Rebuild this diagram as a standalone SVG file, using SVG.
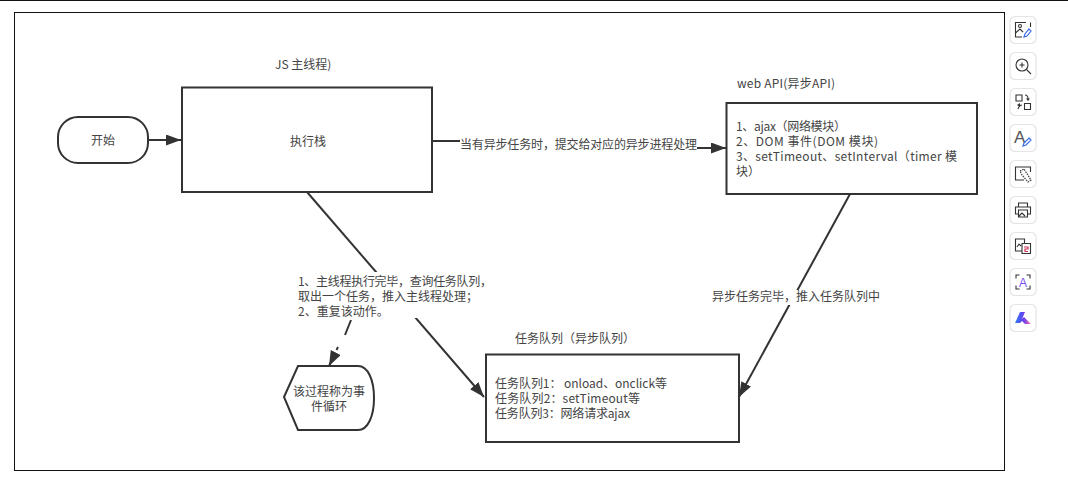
<svg xmlns="http://www.w3.org/2000/svg" width="1068" height="493" viewBox="0 0 1068 493">
<defs>
<style>
text{font-family:"Noto Sans CJK SC","Liberation Sans",sans-serif;font-size:12px;fill:#444}
.box{fill:#fff;stroke:#333;stroke-width:2}
.conn{fill:none;stroke:#333;stroke-width:2}
.btn{fill:#fff;stroke:#e4e4e4;stroke-width:1.2}
.ic{fill:none;stroke:#333;stroke-width:1.1}
.blue{fill:none;stroke:#3a6ee8;stroke-width:1.2}
.mid{text-anchor:middle}
</style>
<marker id="ah" markerUnits="userSpaceOnUse" markerWidth="16" markerHeight="12" refX="15" refY="5.5" orient="auto"><path d="M0 0L15 5.5L0 11Z" fill="#333"/></marker>
<linearGradient id="kg" x1="0" x2="1" y1="0" y2="0"><stop offset="0" stop-color="#2f7df0"/><stop offset=".55" stop-color="#6a3df0"/><stop offset="1" stop-color="#ff7ab0"/></linearGradient>
</defs>
<rect width="1068" height="493" fill="#fff"/>
<path d="M0 .5H1068" stroke="#111" stroke-width="1.2"/>
<rect id="frame" x="14.5" y="12.5" width="990" height="458" fill="#fff" stroke="#111" stroke-width="1"/>
<g id="connectors">
<path class="conn" d="M148 140H181" marker-end="url(#ah)"/>
<path class="conn" d="M432 141H579V148H726" marker-end="url(#ah)"/>
<path class="conn" d="M307 192L484 397" marker-end="url(#ah)"/>
<path class="conn" d="M850 194L739 397" marker-end="url(#ah)"/>
</g>
<g id="start"><rect class="box" x="58" y="117" width="90" height="46" rx="20"/><text class="mid" x="103" y="145">开始</text></g>
<g id="main"><rect class="box" x="182" y="87.500" width="250" height="104.500"/><text class="mid" x="308" y="146">执行栈</text></g>
<g id="main-title"><text x="275" y="69">JS 主线程)</text></g>
<g id="webapi-title"><text x="737" y="88" textLength="98">web API(异步API)</text></g>
<g id="webapi"><rect class="box" x="726.500" y="103" width="250.500" height="91"/>
<text x="736" y="131" textLength="110">1、ajax（网络模块）</text>
<text x="736" y="146" textLength="142">2、DOM 事件(DOM 模块)</text>
<text x="736" y="161" textLength="221">3、setTimeout、setInterval（timer 模</text>
<text x="736" y="176">块）</text></g>
<g id="label-submit"><rect x="460" y="137" width="237" height="16" fill="#fff"/><text x="460" y="149" textLength="237">当有异步任务时，提交给对应的异步进程处理</text></g>
<g id="label-loop"><rect x="296" y="272" width="200" height="46" fill="#fff"/>
<text x="298" y="286" textLength="194">1、主线程执行完毕，查询任务队列，</text>
<text x="298" y="301">取出一个任务，推入主线程处理；</text>
<text x="298" y="316">2、重复该动作。</text></g>
<g id="label-done"><rect x="712" y="290" width="166" height="15" fill="#fff"/><text x="712" y="301">异步任务完毕，推入任务队列中</text></g>
<g id="loop"><path class="box" d="M284 397L298 366H358C368 366 374 380 374 398C374 416 368 430 358 430H298Z"/>
<text class="mid" x="329" y="396">该过程称为事</text><text class="mid" x="329" y="411">件循环</text></g>
<g id="queue-title"><text x="515" y="343">任务队列（异步队列）</text></g>
<g id="queue"><rect class="box" x="486" y="354.500" width="253" height="87.500"/>
<text x="495" y="388" textLength="172">任务队列1： onload、onclick等</text>
<text x="495" y="403" textLength="145">任务队列2：setTimeout等</text>
<text x="495" y="418" textLength="135">任务队列3：网络请求ajax</text></g>
<g id="toolbar">
<g id="b1" transform="translate(1023 30)"><rect class="btn" x="-13" y="-13.500" width="26" height="27" rx="5"/><path class="ic" d="M3 -7.500H-7.500V7H-1M7.500 -7.500V-3M-7.500 3L-3 -1L0 2"/><circle class="ic" cx="-3" cy="-4" r="1.500"/><path class="blue" d="M1 7L2 4L6 -1L8 1L4 6Z"/></g>
<g id="b2" transform="translate(1023 66)"><rect class="btn" x="-13" y="-13.500" width="26" height="27" rx="5"/><circle class="ic" cx="-1" cy="-1" r="6"/><path class="ic" d="M-3.500 -1H1.500M-1 -3.500V1.500M3.500 3.500L8 8"/></g>
<g id="b3" transform="translate(1023 102)"><rect class="btn" x="-13" y="-13.500" width="26" height="27" rx="5"/><path class="ic" d="M-7 -7H-1V-1H-7ZM1.500 1.500H7.500V7.500H1.500ZM2 -7C4 -7 5 -6 5 -3M-5 7C-4 4 -3 3 -1 3"/><path d="M3 -3.500H7L5 -1ZM-6 3L-3 1V5Z" fill="#333"/></g>
<g id="b4" transform="translate(1023 138)"><rect class="btn" x="-13" y="-13.500" width="26" height="27" rx="5"/><text x="-9" y="5" style="font-family:'Liberation Sans',sans-serif;font-size:17px;fill:#555">A</text><path class="blue" d="M0 8L1 5L6 0L8 2L3 7Z"/></g>
<g id="b5" transform="translate(1023 174)"><rect class="btn" x="-13" y="-13.500" width="26" height="27" rx="5"/><path class="ic" d="M7.500 -2V-7H-7.500V6H1"/><path d="M-3 -3L1 -5L8 6L5 8L-1 1Z" fill="none" stroke="#444" stroke-width="1.300" stroke-dasharray="1.500 1"/></g>
<g id="b6" transform="translate(1023 210)"><rect class="btn" x="-13" y="-13.500" width="26" height="27" rx="5"/><path class="ic" d="M-4.500 -3V-7H4.500V-3M-4.500 4H-7.500V-3H7.500V4H4.500M-4.500 0H4.500V7H-4.500ZM-4 6L-1 3L2 6"/></g>
<g id="b7" transform="translate(1023 246)"><rect class="btn" x="-13" y="-13.500" width="26" height="27" rx="5"/><path class="ic" d="M-1 5H-7.500V-7H1.500V-3M-1 -2.500H7.500V7.500H-1ZM-6 1L-4 -2L-2 0"/><path d="M1 1H5V3H2V5.500H5" fill="none" stroke="#d0305a" stroke-width="1.200"/></g>
<g id="b8" transform="translate(1023 282)"><rect class="btn" x="-13" y="-13.500" width="26" height="27" rx="5"/><path class="ic" d="M-7 -3.500V-7H-3.500M3.500 -7H7V-3.500M7 3.500V7H3.500M-3.500 7H-7V3.500"/><text class="mid" x="0" y="4.500" style="font-family:'Liberation Sans',sans-serif;font-size:12px;fill:#7a4ff0">A</text></g>
<g id="b9" transform="translate(1023 318)"><rect class="btn" x="-13" y="-13.500" width="26" height="27" rx="5"/><path d="M-8 5L-3 -6H2L-1 1L1 -1L8 6H2L-1 3L-3 5Z" fill="url(#kg)"/></g>
</g>
<g id="connector-loop">
<line x1="351" y1="320" x2="345" y2="335" stroke="#333" stroke-width="2"/>
<line x1="338" y1="347" x2="336.500" y2="350" stroke="#333" stroke-width="2"/>
<path class="conn" d="M334 356L329 366" marker-end="url(#ah)"/>
</g>
</svg>
